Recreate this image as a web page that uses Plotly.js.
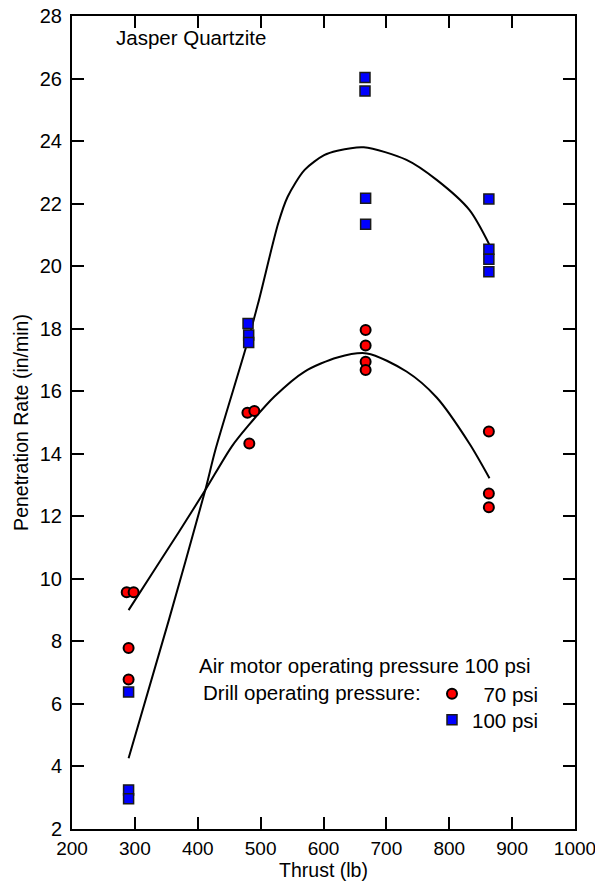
<!DOCTYPE html>
<html>
<head>
<meta charset="utf-8">
<script src="https://cdn.plot.ly/plotly-3.0.1.min.js"></script>
<style>html,body{margin:0;padding:0;background:#fff;}#chart{width:595px;height:891px;}</style>
</head>
<body>
<div id="chart"></div>
<script>
// Measured data: drill operating pressure 70 psi (red circles)
const thrust70 = [287, 298, 290, 290, 479, 490, 482, 667, 667, 667, 667, 863, 863, 863];
const rate70   = [9.57, 9.57, 7.79, 6.78, 15.31, 15.37, 14.33, 17.96, 17.46, 16.94, 16.68, 14.71, 12.73, 12.29];
// Measured data: drill operating pressure 100 psi (blue squares)
const thrust100 = [290, 290, 290, 480, 481, 481, 666, 666, 667, 667, 863, 863, 863, 863];
const rate100   = [6.38, 3.25, 2.97, 18.17, 17.80, 17.56, 26.03, 25.60, 22.17, 21.34, 22.15, 20.54, 20.22, 19.82];
// Fitted curves
const fitThrust70 = [290, 330, 370, 412, 454, 480, 522, 570, 622, 669, 732, 780, 832, 864];
const fitRate70   = [9.0, 10.25, 11.5, 12.84, 14.23, 14.89, 15.83, 16.63, 17.08, 17.21, 16.63, 15.8, 14.33, 13.22];
const fitThrust100 = [290, 354, 412, 428, 477, 496, 528, 543, 570, 601, 622, 664, 732, 780, 832, 864];
const fitRate100   = [4.26, 8.68, 12.84, 14.12, 17.42, 18.81, 21.37, 22.22, 23.08, 23.55, 23.69, 23.8, 23.4, 22.76, 21.8, 20.68];

const seriesNames = ['\u200770 psi', '100 psi'];
const FONT = 'Liberation Sans, Arial, Helvetica, sans-serif';

const traces = [
  {x: fitThrust70, y: fitRate70, mode: 'lines', line: {color: '#000', width: 2, shape: 'spline', smoothing: 0.8}, showlegend: false, hoverinfo: 'skip'},
  {x: fitThrust100, y: fitRate100, mode: 'lines', line: {color: '#000', width: 2, shape: 'spline', smoothing: 0.8}, showlegend: false, hoverinfo: 'skip'},
  {x: thrust70, y: rate70, mode: 'markers', name: seriesNames[0], legend: 'legend',
   marker: {symbol: 'circle', size: 10, color: '#ff0000', line: {color: '#000', width: 2}}},
  {x: thrust100, y: rate100, mode: 'markers', name: seriesNames[1], legend: 'legend2',
   marker: {symbol: 'square', size: 10, color: '#0000ff', line: {color: '#1a1a1a', width: 1.5}}}
];

const axisCommon = {
  showline: true, linecolor: '#000', linewidth: 2, mirror: 'ticks',
  ticks: 'inside', ticklen: 12, tickwidth: 2, tickcolor: '#000',
  showgrid: false, zeroline: false, ticklabeloverflow: 'allow'
};

const legendCommon = {xanchor: 'left', yanchor: 'top', bgcolor: 'rgba(0,0,0,0)', borderwidth: 0,
  font: {family: FONT, size: 20.5, color: '#000'}};

const layout = {
  width: 595, height: 891,
  margin: {l: 72, r: 20, t: 16, b: 62},
  paper_bgcolor: '#fff', plot_bgcolor: '#fff',
  font: {family: FONT, color: '#000'},
  xaxis: Object.assign({}, axisCommon, {
    range: [200, 1000], dtick: 100, tick0: 200, ticklabelstandoff: 1,
    tickfont: {family: FONT, size: 19, color: '#000'},
    title: {text: 'Thrust (lb)', font: {family: FONT, size: 19.5, color: '#000'}, standoff: 4}
  }),
  yaxis: Object.assign({}, axisCommon, {
    range: [2, 28], dtick: 2, tick0: 2, ticklabelstandoff: 4,
    tickfont: {family: FONT, size: 20, color: '#000'},
    title: {text: 'Penetration Rate (in/min)', font: {family: FONT, size: 19.5, color: '#000'}, standoff: 6}
  }),
  showlegend: true,
  legend: Object.assign({}, legendCommon, {x: 0.7157, y: 0.1907}),
  legend2: Object.assign({}, legendCommon, {x: 0.7157, y: 0.1587}),
  annotations: [
    {text: 'Jasper Quartzite', xref: 'paper', yref: 'paper', x: 0.0835, y: 0.974, xanchor: 'left', yanchor: 'middle', showarrow: false, font: {family: FONT, size: 20.5, color: '#000'}},
    {text: 'Air motor operating pressure 100 psi', xref: 'paper', yref: 'paper', x: 0.9165, y: 0.2017, xanchor: 'right', yanchor: 'middle', showarrow: false, font: {family: FONT, size: 20.5, color: '#000'}},
    {text: 'Drill operating pressure:', xref: 'paper', yref: 'paper', x: 0.2559, y: 0.1685, xanchor: 'left', yanchor: 'middle', showarrow: false, font: {family: FONT, size: 20.5, color: '#000'}}
  ]
};

Plotly.newPlot('chart', traces, layout, {staticPlot: true, displayModeBar: false});
</script>
</body>
</html>
